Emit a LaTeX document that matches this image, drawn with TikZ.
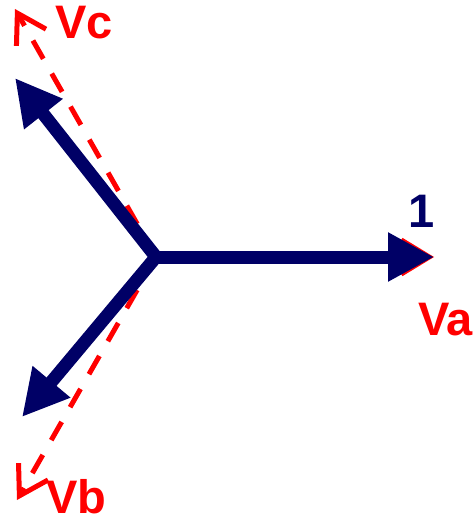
\documentclass[tikz,border=0pt]{standalone}
\usepackage{fontspec}
\setmainfont{Liberation Sans}
\usepackage{tikz}
\usetikzlibrary{arrows.meta}
\usepackage{xcolor}
\definecolor{phasornavy}{RGB}{0,0,102}

\begin{document}
\begin{tikzpicture}[x=1pt, y=-1pt,
      phasor/.style={-{Triangle[length=46pt, width=46pt]}, line width=13pt, phasornavy},
      measured/.style={-{Straight Barb[length=28pt, width=34pt]}, line width=5pt, red,
          dash pattern=on 21pt off 17pt},
      lbl/.style={font=\fontsize{47}{50}\selectfont\bfseries, inner sep=0pt},
    ]
    \useasboundingbox (0,0) rectangle (472,519);

    % Origin and phasor tips
    \coordinate (O) at (156,257);
    \coordinate (A) at (434,257);
    \coordinate (B) at (22,417);
    \coordinate (C) at (15,78);
    % Tips of the measured (dashed) phasors
    \coordinate (Ar) at (434,257);
    \coordinate (Br) at (17,500);
    \coordinate (Cr) at (15,9);

    % Measured phasors
    \draw[measured] (O) -- (Ar);
    \draw[measured] (O) -- (Br);
    \draw[measured] (O) -- (Cr);

    % Balanced phasors
    \draw[phasor] (O) -- (A);
    \draw[phasor] (O) -- (B);
    \draw[phasor] (O) -- (C);

    % Labels
    \node[lbl, phasornavy] (one) at (422,211) {1};
    \node[lbl, red, anchor=west] (va) at (418,320) {Va};
    \node[lbl, red, anchor=west] (vb) at (46,497) {Vb};
    \node[lbl, red, anchor=west] (vc) at (55,23) {Vc};
  \end{tikzpicture}
\end{document}
